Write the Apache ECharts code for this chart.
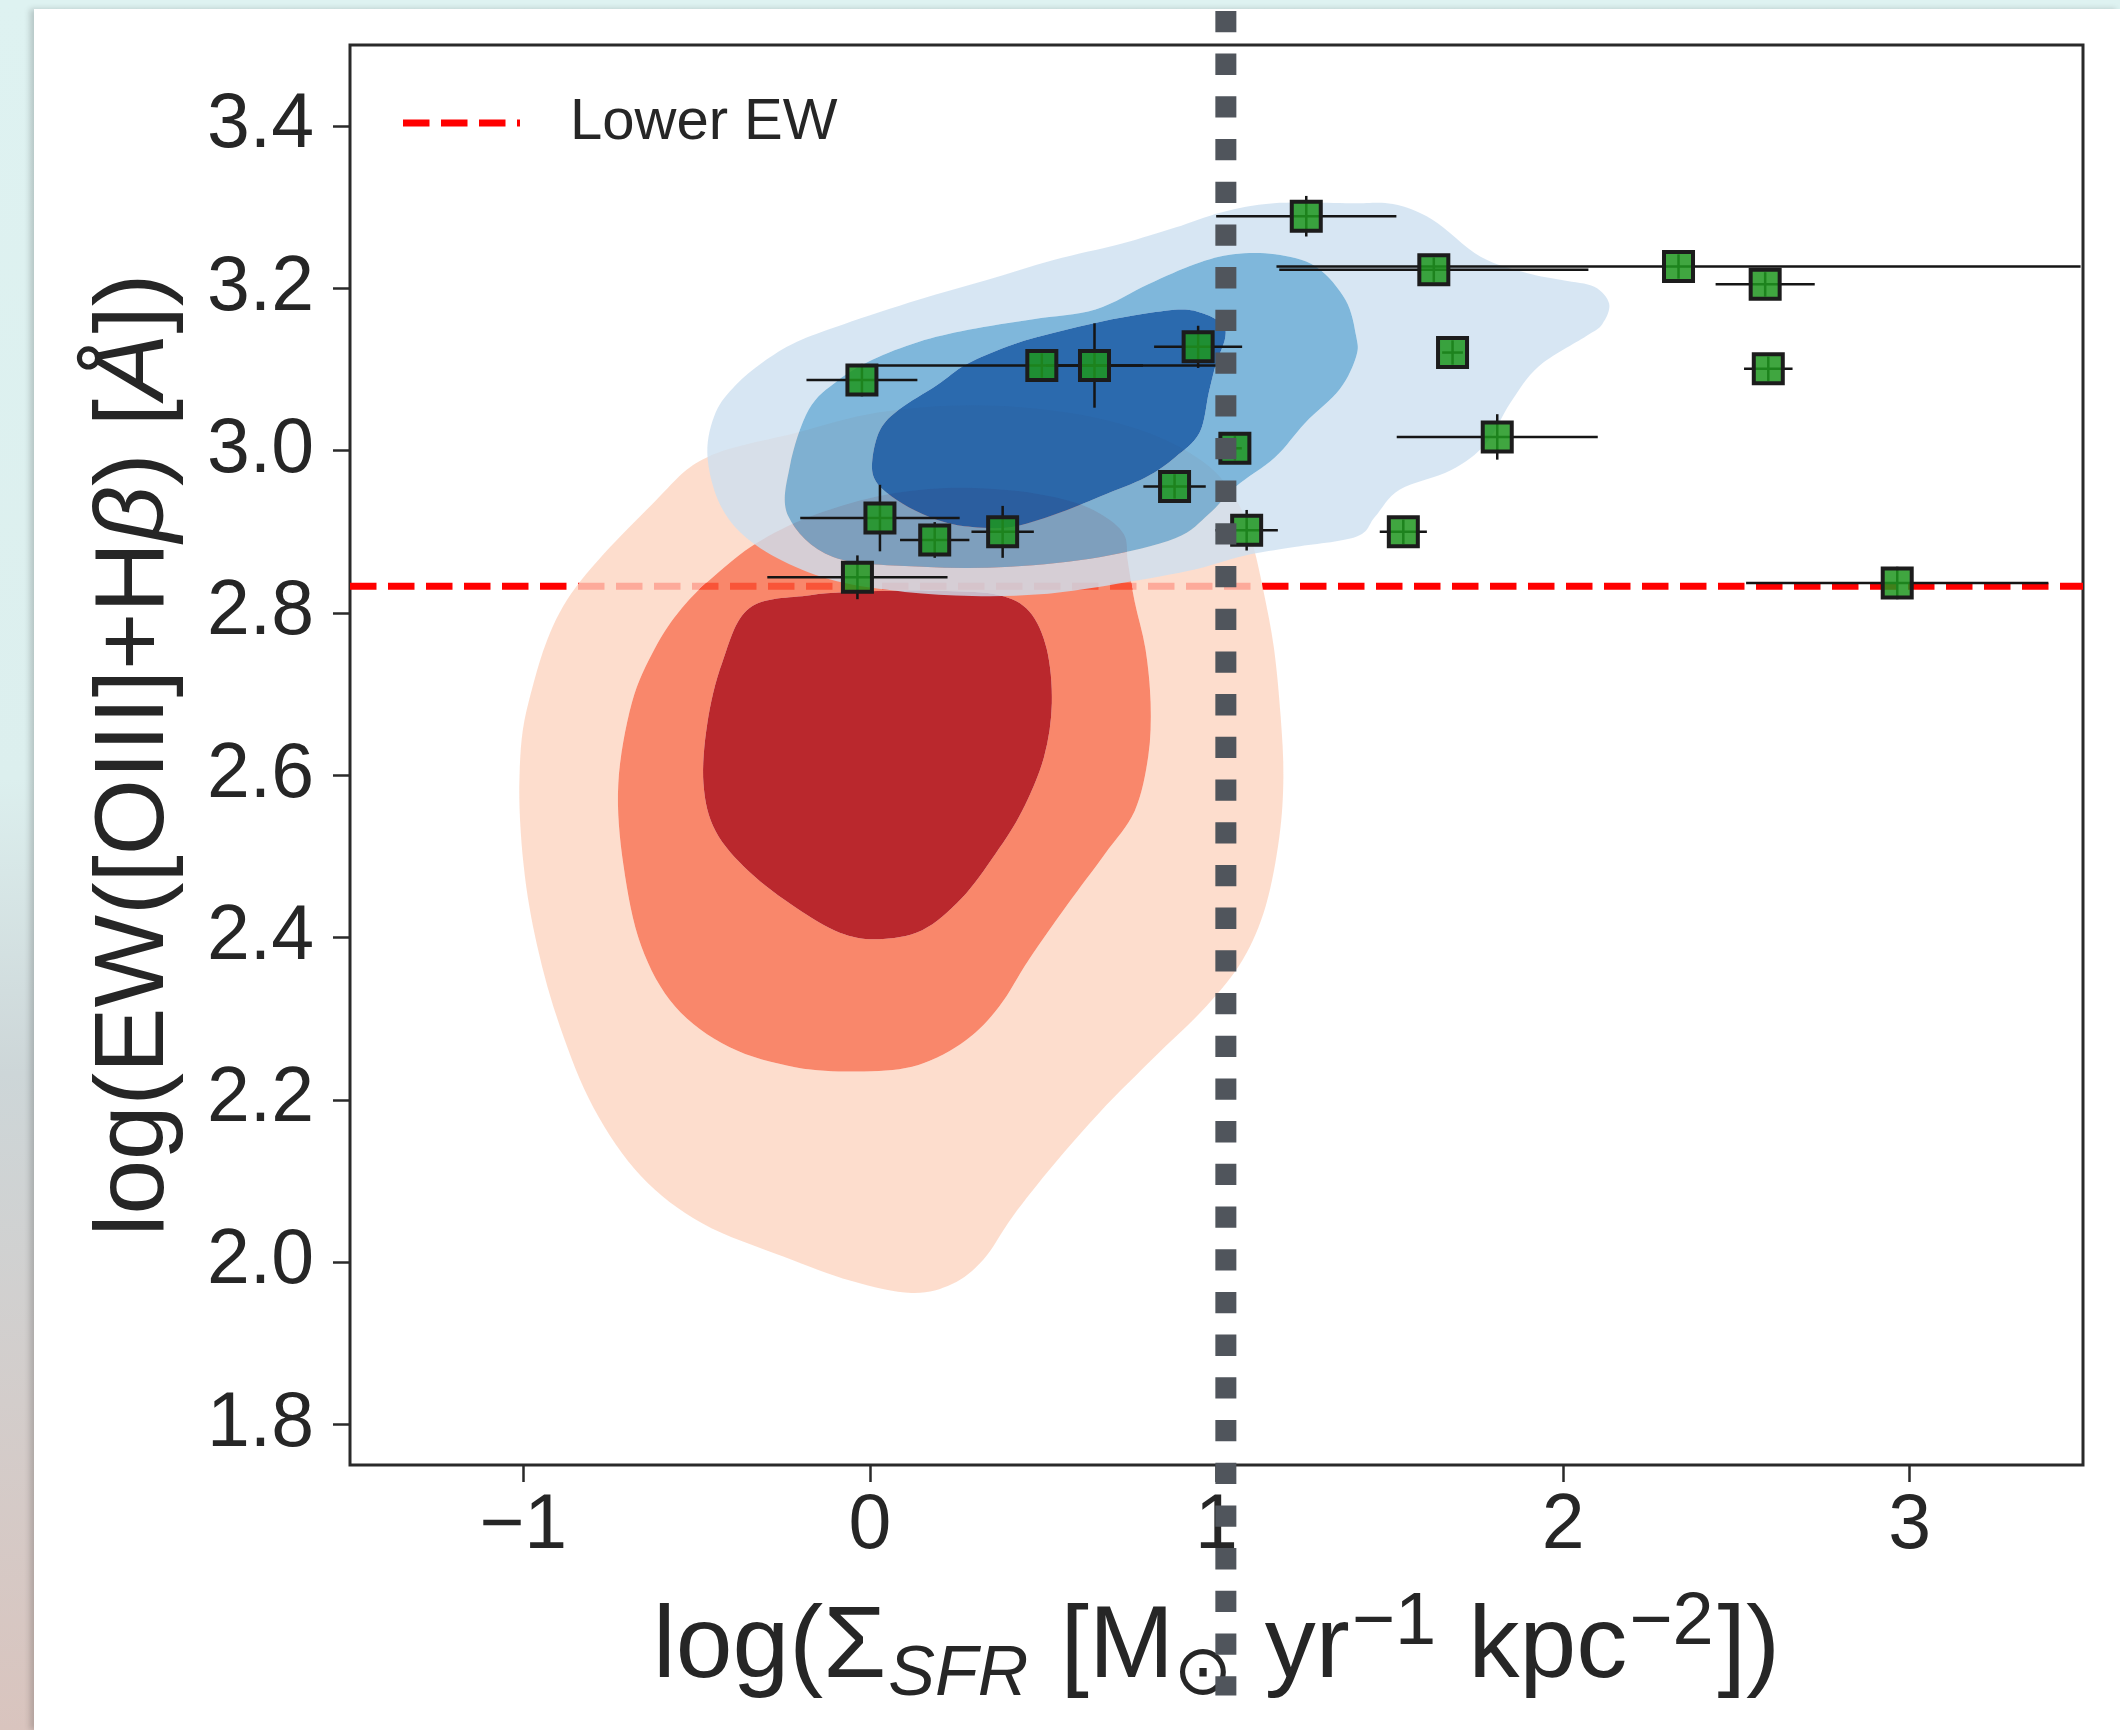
<!DOCTYPE html>
<html><head><meta charset="utf-8">
<script src="https://cdn.jsdelivr.net/npm/echarts@6/dist/echarts.min.js"></script>
<style>
html,body{margin:0;padding:0;width:2120px;height:1730px;overflow:hidden;}
body{background:linear-gradient(to bottom,#def2f1 0%,#dcefee 45%,#cdd6d8 62%,#d9c4be 100%);}
#panel{position:absolute;left:34px;top:9px;width:2086px;height:1721px;background:#fff;box-shadow:-4px 0 6px rgba(0,0,0,0.18);}
#chart{position:absolute;left:0;top:0;width:2120px;height:1730px;}
</style></head><body><div id="panel"></div><div id="chart"></div>
<script>
// ---------- data ----------
const xTicks = [-1, 0, 1, 2, 3];
const yTicks = [1.8, 2.0, 2.2, 2.4, 2.6, 2.8, 3.0, 3.2, 3.4];
const xRange = [-1.5, 3.5];
const yRange = [1.75, 3.5];

const lowerEW = 2.833;
const sfrThreshold = 1.027;
const vlineSpan = [1.466, 3.542];

const ptX    = [-0.023, 0.496, 0.648, 0.947, 1.053, 0.879, 1.087, 0.029, 0.187, 0.383, -0.036, 1.259, 1.627, 2.333, 2.583, 1.681, 2.592, 1.810, 1.539, 2.964];
const ptY    = [3.087, 3.105, 3.105, 3.128, 3.003, 2.956, 2.902, 2.917, 2.890, 2.900, 2.844, 3.289, 3.223, 3.227, 3.205, 3.121, 3.101, 3.017, 2.900, 2.837];
const ptXerr = [0.16, 0.51, 0.14, 0.127, 0.02, 0.09, 0.09, 0.23, 0.10, 0.09, 0.26, 0.26, 0.446, 1.16, 0.143, 0.03, 0.07, 0.29, 0.068, 0.436];
const ptYerr = [0.02, 0.015, 0.052, 0.026, 0.015, 0.015, 0.025, 0.041, 0.022, 0.032, 0.027, 0.025, 0.015, 0.015, 0.015, 0.015, 0.015, 0.028, 0.015, 0.02];

// contour outlines (data coordinates)
const redOuter = [[-1.011,2.598],[-0.999,2.489],[-0.960,2.390],[-0.894,2.290],[-0.797,2.190],[-0.660,2.106],[-0.484,2.048],[-0.250,2.007],[-0.055,1.977],[0.120,1.962],[0.237,1.973],[0.327,2.003],[0.413,2.057],[0.530,2.120],[0.666,2.186],[0.822,2.253],[0.970,2.315],[1.076,2.373],[1.142,2.439],[1.181,2.523],[1.193,2.598],[1.185,2.673],[1.166,2.756],[1.138,2.822],[1.107,2.881],[1.068,2.931],[0.978,2.981],[0.803,3.022],[0.569,3.047],[0.296,3.056],[0.023,3.047],[-0.212,3.022],[-0.469,2.992],[-0.617,2.939],[-0.874,2.816],[-0.983,2.693]];
const redMid = [[-0.726,2.589],[-0.711,2.489],[-0.660,2.390],[-0.562,2.315],[-0.406,2.265],[-0.212,2.240],[-0.016,2.235],[0.140,2.243],[0.276,2.273],[0.373,2.315],[0.459,2.373],[0.569,2.440],[0.678,2.503],[0.764,2.556],[0.803,2.623],[0.810,2.689],[0.795,2.756],[0.764,2.814],[0.744,2.864],[0.733,2.897],[0.666,2.922],[0.569,2.939],[0.413,2.951],[0.218,2.954],[0.023,2.944],[-0.172,2.919],[-0.328,2.886],[-0.445,2.847],[-0.543,2.806],[-0.621,2.756],[-0.687,2.689]];
const redInner = [[-0.348,2.806],[-0.172,2.822],[0.023,2.827],[0.218,2.827],[0.373,2.822],[0.460,2.802],[0.510,2.756],[0.525,2.689],[0.502,2.622],[0.439,2.556],[0.362,2.503],[0.264,2.448],[0.151,2.409],[0.023,2.398],[-0.087,2.406],[-0.211,2.436],[-0.348,2.481],[-0.445,2.531],[-0.480,2.589],[-0.469,2.664],[-0.426,2.739]];
const blueOuter = [[-0.469,2.997],[-0.445,3.047],[-0.387,3.081],[-0.309,3.109],[-0.212,3.134],[-0.075,3.156],[0.140,3.186],[0.335,3.210],[0.530,3.235],[0.725,3.255],[0.881,3.275],[1.016,3.294],[1.165,3.305],[1.388,3.305],[1.509,3.304],[1.622,3.285],[1.762,3.239],[1.895,3.219],[2.000,3.210],[2.090,3.202],[2.133,3.181],[2.113,3.156],[2.066,3.141],[1.930,3.104],[1.848,3.059],[1.778,3.009],[1.676,2.976],[1.528,2.952],[1.458,2.919],[1.403,2.894],[1.220,2.881],[1.083,2.871],[0.920,2.852],[0.686,2.834],[0.491,2.823],[0.296,2.821],[0.101,2.826],[-0.095,2.839],[-0.251,2.864],[-0.368,2.897],[-0.438,2.939]];
const blueMid = [[-0.235,2.919],[-0.231,2.981],[-0.176,3.051],[-0.094,3.086],[0.007,3.112],[0.140,3.134],[0.284,3.149],[0.471,3.162],[0.651,3.174],[0.803,3.205],[0.939,3.230],[1.048,3.242],[1.169,3.242],[1.286,3.227],[1.372,3.186],[1.403,3.141],[1.403,3.116],[1.356,3.076],[1.255,3.034],[1.169,2.992],[1.056,2.956],[0.978,2.922],[0.881,2.892],[0.666,2.869],[0.405,2.857],[0.151,2.857],[-0.106,2.869]];
const blueInner = [[0.007,2.989],[0.030,3.026],[0.085,3.051],[0.194,3.081],[0.280,3.107],[0.413,3.131],[0.537,3.146],[0.666,3.159],[0.795,3.169],[0.900,3.174],[0.962,3.169],[1.017,3.156],[1.025,3.139],[0.998,3.106],[0.978,3.072],[0.951,3.022],[0.881,2.992],[0.795,2.967],[0.666,2.944],[0.537,2.922],[0.409,2.906],[0.296,2.906],[0.214,2.912],[0.132,2.926],[0.062,2.944],[0.015,2.964]];

// ---------- styling ----------
const FONT = "'Liberation Sans', Arial, sans-serif";
const TXT = '#262626';
const redFills  = ['rgba(252,212,193,0.8)', 'rgba(248,105,70,0.8)', 'rgba(176,10,16,0.88)'];
const blueFills = ['rgba(205,224,240,0.8)', 'rgba(95,165,210,0.8)', 'rgba(20,90,165,0.9)'];

function fmtTick(v) { return v < 0 ? '\u2212' + Math.abs(v) : String(v); }

function signedArea(p) {
  let a = 0;
  for (let i = 0; i < p.length; i++) { const q = p[(i + 1) % p.length]; a += p[i][0] * q[1] - q[0] * p[i][1]; }
  return a / 2;
}
function smoothClosed(p) {
  const n = p.length, f = v => v.toFixed(2);
  let d = 'M' + f(p[0][0]) + ' ' + f(p[0][1]);
  for (let i = 0; i < n; i++) {
    const p0 = p[(i - 1 + n) % n], p1 = p[i], p2 = p[(i + 1) % n], p3 = p[(i + 2) % n];
    const c1 = [p1[0] + (p2[0] - p0[0]) / 6, p1[1] + (p2[1] - p0[1]) / 6];
    const c2 = [p2[0] - (p3[0] - p1[0]) / 6, p2[1] - (p3[1] - p1[1]) / 6];
    d += ' C' + f(c1[0]) + ' ' + f(c1[1]) + ' ' + f(c2[0]) + ' ' + f(c2[1]) + ' ' + f(p2[0]) + ' ' + f(p2[1]);
  }
  return d + ' Z';
}
function contourSeries(levels, fills, z) {
  return {
    type: 'custom', z: z, silent: true, clip: false,
    data: levels.map((_, i) => [0, 0]),
    renderItem: function (params, api) {
      const i = params.dataIndex;
      let outer = levels[i].map(p => api.coord(p));
      if (signedArea(outer) < 0) outer = outer.slice().reverse();
      let d = smoothClosed(outer);
      if (i + 1 < levels.length) {
        let inner = levels[i + 1].map(p => api.coord(p));
        if (signedArea(inner) > 0) inner = inner.slice().reverse();
        d += ' ' + smoothClosed(inner);
      }
      return { type: 'path', shape: { pathData: d }, style: { fill: fills[i], stroke: null } };
    }
  };
}

const chart = echarts.init(document.getElementById('chart'), null, { renderer: 'canvas' });
chart.setOption({
  backgroundColor: 'transparent',
  animation: false,
  grid: { left: 350, right: 37, top: 45, bottom: 265, show: true, borderColor: '#2a2a2a', borderWidth: 3, backgroundColor: 'transparent' },
  legend: {
    data: [{ name: 'Lower EW', icon: 'path://M0,0H26.5V7H0Z M38,0H64.5V7H38Z M76,0H102.5V7H76Z M114,0H117V7H114Z' }],
    left: 403, top: 93, padding: 0,
    itemWidth: 117, itemHeight: 7, symbolKeepAspect: false,
    itemStyle: { color: '#ff0000', borderWidth: 0 },
    textStyle: { fontSize: 58, color: TXT, fontFamily: FONT, lineHeight: 60, padding: [0, 0, 0, 45] }
  },
  xAxis: {
    type: 'value', min: xRange[0], max: xRange[1],
    splitLine: { show: false },
    axisLine: { show: false, onZero: false },
    axisTick: { show: true, inside: false, length: 17, lineStyle: { width: 2.5, color: '#2a2a2a' }, customValues: xTicks },
    axisLabel: { customValues: xTicks, formatter: fmtTick, fontSize: 77, color: TXT, fontFamily: FONT, margin: 23 },
    name: 'log(\u03A3{sub|SFR} [M{odot|\u2299} yr{sup|\u22121} kpc{sup|\u22122}])',
    nameLocation: 'middle', nameGap: 122,
    nameTextStyle: {
      fontSize: 102, lineHeight: 124, color: TXT, fontFamily: FONT,
      rich: {
        sub: { fontSize: 70, lineHeight: 70, verticalAlign: 'bottom', fontStyle: 'italic', color: TXT, fontFamily: FONT, padding: [0, 4, 0, 2] },
        odot: { fontSize: 70, lineHeight: 70, verticalAlign: 'bottom', color: TXT, fontFamily: "'DejaVu Sans', sans-serif", padding: [0, 4, 0, 0] },
        sup: { fontSize: 74, lineHeight: 74, verticalAlign: 'top', color: TXT, fontFamily: FONT, padding: [0, 4, 0, 2] }
      }
    }
  },
  yAxis: {
    type: 'value', min: yRange[0], max: yRange[1],
    splitLine: { show: false },
    axisLine: { show: false, onZero: false },
    axisTick: { show: true, inside: false, length: 17, lineStyle: { width: 2.5, color: '#2a2a2a' }, customValues: yTicks },
    axisLabel: { customValues: yTicks, formatter: v => v.toFixed(1), fontSize: 77, color: TXT, fontFamily: FONT, margin: 36 },
    name: 'log(EW([OIII]+H{it|\u03B2}) [{it|\u00C5}])',
    nameLocation: 'middle', nameGap: 153,
    nameTextStyle: {
      fontSize: 98, lineHeight: 120, color: TXT, fontFamily: FONT,
      rich: { it: { fontSize: 98, lineHeight: 120, fontStyle: 'italic', color: TXT, fontFamily: FONT } }
    }
  },
  series: [
    {
      name: 'Lower EW', type: 'line', z: 2, silent: true, symbol: 'none',
      data: [[xRange[0], lowerEW], [xRange[1], lowerEW]],
      itemStyle: { color: '#ff0000' },
      lineStyle: { color: '#ff0000', width: 7, type: [26.5, 11.5], cap: 'butt' }
    },
    contourSeries([redOuter, redMid, redInner], redFills, 3),
    contourSeries([blueOuter, blueMid, blueInner], blueFills, 4),
    {
      type: 'custom', z: 5, silent: true, clip: false,
      data: ptX.map((x, i) => [x, ptY[i]]),
      renderItem: function (params, api) {
        const i = params.dataIndex, x = ptX[i], y = ptY[i];
        const a = api.coord([x - ptXerr[i], y]), b = api.coord([x + ptXerr[i], y]);
        const c = api.coord([x, y - ptYerr[i]]), d = api.coord([x, y + ptYerr[i]]);
        const st = { stroke: '#151515', lineWidth: 2.5 };
        return { type: 'group', children: [
          { type: 'line', shape: { x1: a[0], y1: a[1], x2: b[0], y2: b[1] }, style: st },
          { type: 'line', shape: { x1: c[0], y1: c[1], x2: d[0], y2: d[1] }, style: st }
        ] };
      }
    },
    {
      type: 'scatter', z: 6, silent: true,
      data: ptX.map((x, i) => [x, ptY[i]]),
      symbol: 'rect', symbolSize: 29,
      itemStyle: { color: 'rgba(30,150,30,0.85)', borderColor: '#1c1c1c', borderWidth: 4, opacity: 1 }
    },
    {
      type: 'custom', z: 7, silent: true, clip: false,
      data: [[sfrThreshold, vlineSpan[0]]],
      renderItem: function (params, api) {
        const top = api.coord([sfrThreshold, vlineSpan[1]]);
        const bot = api.coord([sfrThreshold, vlineSpan[0]]);
        return { type: 'line', shape: { x1: top[0], y1: top[1], x2: bot[0], y2: bot[1] },
          style: { stroke: '#50555c', lineWidth: 21, lineDash: [21.3, 21.4], lineCap: 'butt' } };
      }
    }
  ]
});
</script></body></html>
